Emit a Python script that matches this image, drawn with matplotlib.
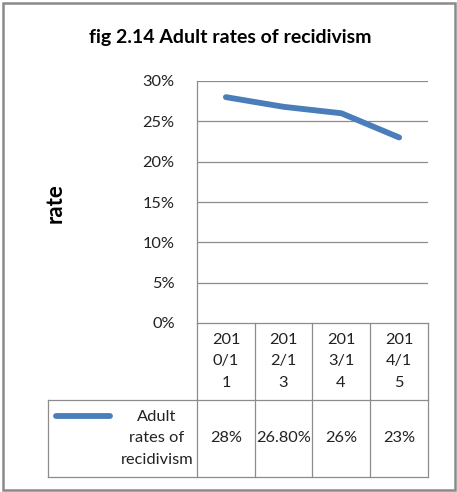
import matplotlib.pyplot as plt
from matplotlib.patches import Rectangle

# Data
periods = ['2010/11', '2012/13', '2013/14', '2014/15']
period_labels = ['201\n0/1\n1', '201\n2/1\n3', '201\n3/1\n4', '201\n4/1\n5']
rates = [28, 26.8, 26, 23]
rate_labels = ['28%', '26.80%', '26%', '23%']
series_name = 'Adult\nrates of\nrecidivism'
yticks = [0, 5, 10, 15, 20, 25, 30]

W, H = 457, 492
line_color = '#4a7ebb'
grid_color = '#8c8c8c'
text_color = '#222222'
font = ['Lato', 'DejaVu Sans']
fs = 11.8

fig = plt.figure(figsize=(W / 100, H / 100), dpi=100)

# overlay in pixel coords for border and data table
ov = fig.add_axes([0, 0, 1, 1])
ov.set_xlim(0, W)
ov.set_ylim(H, 0)
ov.axis('off')

# plot area
left, right, top, bottom = 197, 428, 81, 323
ax = fig.add_axes([left / W, 1 - bottom / H, (right - left) / W, (bottom - top) / H])
ax.plot(range(len(rates)), rates, color=line_color, lw=4.2, solid_capstyle='round',
        solid_joinstyle='round')
ax.set_xlim(-0.5, len(rates) - 0.5)
ax.set_ylim(0, 30)
ax.set_yticks(yticks)
ax.set_yticklabels([f'{t}%' for t in yticks], fontsize=fs, family=font, color=text_color)
ax.tick_params(axis='y', length=0, pad=16)
ax.set_xticks([])
for t in yticks[1:]:
    ax.axhline(t, color=grid_color, lw=0.9, zorder=0)
for s in ['top', 'right', 'bottom']:
    ax.spines[s].set_visible(False)
ax.spines['left'].set_color(grid_color)
ax.spines['left'].set_linewidth(0.9)
ax.patch.set_alpha(0)

# outer border
ov.add_patch(Rectangle((2.5, 2.5), W - 5, H - 5, fill=False, ec='#8a8a8a', lw=1.8))

# title and y label
ov.text(W / 2 + 2, 38, 'fig 2.14 Adult rates of recidivism', ha='center', va='center',
        fontsize=14, fontweight='bold', family=font)
ov.text(55, 203, 'rate', ha='center', va='center', rotation=90, fontsize=16,
        fontweight='bold', family=font)

# data table
cols = [197, 255, 312, 370, 428]
row1, row2, row3 = 323, 400, 477
lk = dict(color=grid_color, lw=0.9)
ov.plot([197, 428], [row1, row1], **lk)
ov.plot([48, 428], [row2, row2], **lk)
ov.plot([48, 428], [row3, row3], **lk)
ov.plot([48, 48], [row2, row3], **lk)
for x in cols:
    ov.plot([x, x], [row1, row3], **lk)

for i, lab in enumerate(period_labels):
    xc = (cols[i] + cols[i + 1]) / 2
    ov.text(xc, (row1 + row2) / 2, lab, ha='center', va='center', fontsize=fs,
            family=font, color=text_color, linespacing=1.65)
    ov.text(xc, (row2 + row3) / 2, rate_labels[i], ha='center', va='center',
            fontsize=fs, family=font, color=text_color)

ov.plot([56, 110], [416, 416], color=line_color, lw=4.2, solid_capstyle='round')
ov.text(157, (row2 + row3) / 2, series_name, ha='center', va='center', fontsize=fs,
        family=font, color=text_color, linespacing=1.7)

fig.savefig('out.png', dpi=100)
